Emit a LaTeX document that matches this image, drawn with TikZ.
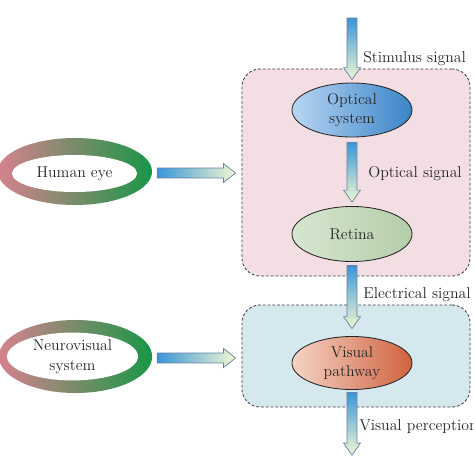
\documentclass[tikz,border=0pt]{standalone}
\usepackage{tikz}
\usetikzlibrary{shapes, arrows, positioning, arrows.meta, calc}

\definecolor{flechaazul}{RGB}{58,150,216}
\definecolor{flechaclara}{RGB}{242,247,208}
\definecolor{bordeflecha}{RGB}{100,128,165}
\definecolor{cajarosa}{RGB}{243,223,227}
\definecolor{cajaazul}{RGB}{212,232,238}
\definecolor{anillorosa}{RGB}{214,130,142}
\definecolor{anilloverde}{RGB}{24,150,70}

\tikzset{
  caja/.style={draw=black!75, dash pattern=on 2pt off 1.4pt, line width=0.6pt,
    rounded corners=0.45cm, minimum width=5.7cm},
  elipse/.style={ellipse, draw=black!85, line width=0.6pt, minimum width=3cm,
    inner sep=0pt, align=center},
  anillo/.style={ellipse, fill=white, inner sep=0pt, align=center},
  senal/.style={anchor=base west, inner sep=0pt},
}

% flecha de bloque vertical
\newcommand{\flechav}[2]{%
  \shadedraw[top color=flechaazul, bottom color=flechaclara, draw=bordeflecha, line width=0.5pt]
    let \p1=(#1), \p2=(#2) in
    (\x1-3.5pt,\y1) -- (\x1+3.5pt,\y1) -- (\x1+3.5pt,\y2+8.5pt) -- (\x1+6pt,\y2+8.5pt)
    -- (\x1,\y2) -- (\x1-6pt,\y2+8.5pt) -- (\x1-3.5pt,\y2+8.5pt) -- cycle;}
% flecha de bloque horizontal
\newcommand{\flechah}[2]{%
  \shadedraw[left color=flechaazul, right color=flechaclara, draw=bordeflecha, line width=0.5pt]
    let \p1=(#1), \p2=(#2) in
    (\x1,\y1+3.5pt) -- (\x2-8.5pt,\y1+3.5pt) -- (\x2-8.5pt,\y1+6.7pt) -- (\x2,\y1)
    -- (\x2-8.5pt,\y1-6.7pt) -- (\x2-8.5pt,\y1-3.5pt) -- (\x1,\y1-3.5pt) -- cycle;}

\begin{document}
\begin{tikzpicture}[x=0.025cm, y=-0.025cm, font=\fontsize{11.2}{14}\selectfont, text=black!85]
    \useasboundingbox (0,0) rectangle (474,474);
    \clip (0,0) rectangle (474,474);

    % Cajas
    \node[caja, fill=cajarosa, minimum height=5.175cm] (cajaojo) at (356,172.5) {};
    \node[caja, fill=cajaazul, minimum height=2.55cm] (cajavia) at (356,356) {};

    % Elipses del sistema
    \node[elipse, minimum height=1.35cm, left color={rgb,255:red,184;green,214;blue,243},
      right color={rgb,255:red,58;green,132;blue,200}] (optico) at (352,110) {Optical\\system};
    \node[elipse, minimum height=1.375cm, left color={rgb,255:red,214;green,230;blue,208},
      right color={rgb,255:red,180;green,205;blue,170}] (retina) at (352,234) {Retina};
    \node[elipse, minimum height=1.325cm, left color={rgb,255:red,245;green,212;blue,198},
      right color={rgb,255:red,208;green,98;blue,62}] (via) at (352,363) {Visual\\pathway};

    % Anillos
    \shade[left color=anillorosa, right color=anilloverde] (75,171.5) ellipse [x radius=1.925cm, y radius=0.8375cm];
    \node[anillo, minimum width=3.125cm, minimum height=0.925cm] (ojo) at (74.5,173.5) {Human eye};
    \shade[left color=anillorosa, right color=anilloverde] (75.5,356.5) ellipse [x radius=1.915cm, y radius=0.9125cm];
    \node[anillo, minimum width=3.275cm, minimum height=1.175cm] (neuro) at (72.5,356.5) {Neurovisual\\system};

    % Flechas
    \coordinate (entrada) at (352,18);
    \coordinate (salida) at (352,455);
    \flechav{entrada}{$(optico.north)+(0,-3)$}
    \flechav{$(optico.south)+(0,5)$}{$(retina.north)+(0,-4)$}
    \flechav{$(retina.south)+(0,3.5)$}{$(via.north)+(0,-7.5)$}
    \flechav{$(via.south)+(0,2.5)$}{salida}
    \flechah{$(ojo.east)+(20,-0.5)$}{$(cajaojo.west)+(-6,0)$}
    \flechah{$(neuro.east)+(19,1.5)$}{$(cajavia.west)+(-6,0)$}

    % Etiquetas
    \node[senal] (estimulo) at (363,62) {Stimulus signal};
    \node[senal] (optica) at (368,177) {Optical signal};
    \node[senal] (electrica) at (363,298) {Electrical signal};
    \node[senal] (percepcion) at (359,430) {Visual perception};
\end{tikzpicture}
\end{document}
